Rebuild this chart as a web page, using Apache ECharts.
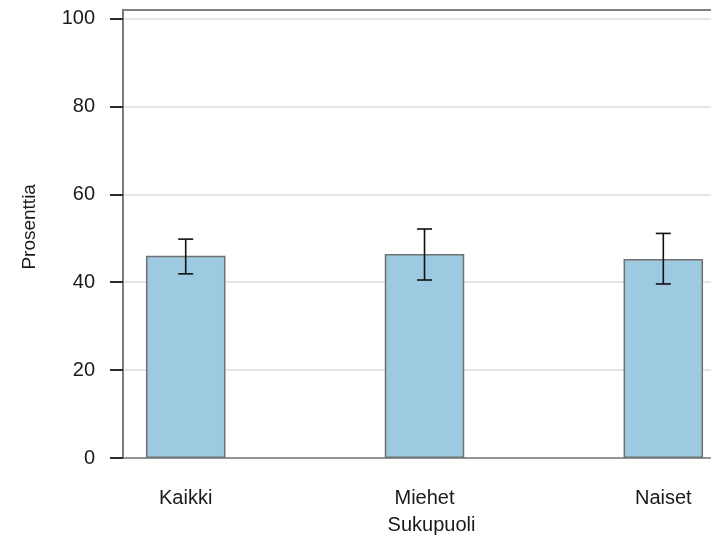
<!DOCTYPE html>
<html><head><meta charset="utf-8">
<script src="https://cdn.jsdelivr.net/npm/echarts@6/dist/echarts.min.js"></script>
<style>html,body{margin:0;padding:0;background:#fff}#c{width:711px;height:542px}</style>
</head><body><div id="c"></div>
<script>
const categories = ['Kaikki', 'Miehet', 'Naiset'];
const values = [46.0, 46.4, 45.3];
const lower = [41.9, 40.5, 39.6];
const upper = [49.8, 52.1, 51.1];
const yTicks = [0, 20, 40, 60, 80, 100];
const xPositions = [0, 1, 2];

const font = '"Liberation Sans", Arial, sans-serif';
const chart = echarts.init(document.getElementById('c'), null, {renderer: 'canvas'});
chart.setOption({
  animation: false,
  backgroundColor: '#ffffff',
  grid: {left: 123, right: 0, top: 9.7, bottom: 84, containLabel: false},
  xAxis: [{
    type: 'value', position: 'bottom', min: -0.2626, max: 2.1997,
    name: 'Sukupuoli', nameLocation: 'middle', nameGap: 57,
    nameTextStyle: {fontFamily: font, fontSize: 20, color: '#1a1a1a', padding: [0, 0, 0, 29]},
    axisLine: {show: true, onZero: false, lineStyle: {color: '#7a7a7a', width: 1.5}},
    axisTick: {show: false},
    splitLine: {show: false},
    axisLabel: {
      customValues: xPositions, margin: 30, fontFamily: font, fontSize: 20, color: '#1a1a1a',
      formatter: v => categories[Math.round(v)] || ''
    }
  }, {
    type: 'value', position: 'top', min: -0.2626, max: 2.1997,
    axisLine: {show: true, onZero: false, lineStyle: {color: '#7f7f7f', width: 2}},
    axisTick: {show: false}, axisLabel: {show: false}, splitLine: {show: false}
  }],
  yAxis: {
    type: 'value', min: 0, max: 102, interval: 20,
    name: 'Prosenttia', nameLocation: 'middle', nameGap: 84, nameRotate: 90,
    nameTextStyle: {fontFamily: font, fontSize: 19, color: '#1a1a1a', padding: [0, 0, 0, 14]},
    axisLine: {show: true, onZero: false, lineStyle: {color: '#7a7a7a', width: 2}},
    axisTick: {show: true, customValues: yTicks, length: 13, lineStyle: {color: '#2a2a2a', width: 2}},
    axisLabel: {customValues: yTicks, margin: 28, fontFamily: font, fontSize: 20, color: '#1a1a1a'},
    splitLine: {show: true, lineStyle: {color: '#dcdcdc', width: 1.5}}
  },
  series: [{
    type: 'bar', xAxisIndex: 0,
    data: xPositions.map((x, i) => [x, values[i]]),
    barWidth: 79.5,
    itemStyle: {color: '#9ecae1', borderColor: '#707070', borderWidth: 1.5},
    z: 2
  }, {
    type: 'custom', xAxisIndex: 0,
    data: xPositions.map((x, i) => [x, lower[i], upper[i]]),
    encode: {x: 0, y: [1, 2]},
    z: 5,
    renderItem: function (params, api) {
      const x = api.value(0);
      const lo = api.coord([x, api.value(1)]);
      const hi = api.coord([x, api.value(2)]);
      const w = 7.5;
      const st = {stroke: '#111111', lineWidth: 1.6};
      return {type: 'group', children: [
        {type: 'line', shape: {x1: hi[0], y1: hi[1], x2: lo[0], y2: lo[1]}, style: st},
        {type: 'line', shape: {x1: hi[0] - w, y1: hi[1], x2: hi[0] + w, y2: hi[1]}, style: st},
        {type: 'line', shape: {x1: lo[0] - w, y1: lo[1], x2: lo[0] + w, y2: lo[1]}, style: st}
      ]};
    }
  }]
});
</script></body></html>
